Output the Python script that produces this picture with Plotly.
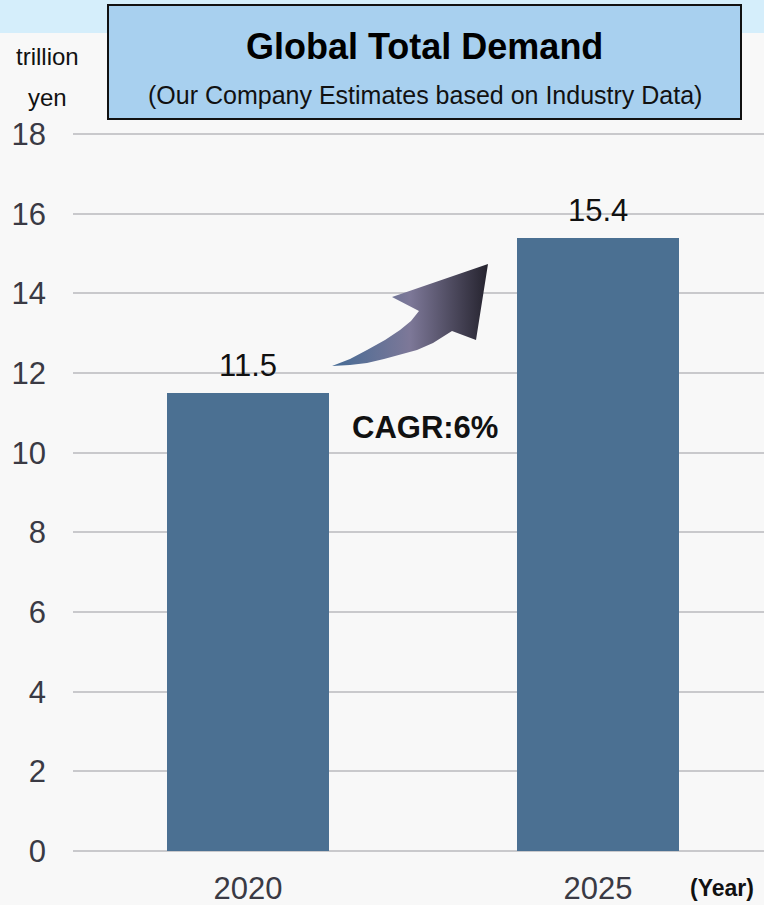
import plotly.graph_objects as go

# ---- data ----
years = ["2020", "2025"]
demand = [11.5, 15.4]
y_ticks = [0, 2, 4, 6, 8, 10, 12, 14, 16, 18]
cagr_label = "CAGR:6%"

W, H = 764, 905
L, R, T, B = 73, 0, 132, 52
plot_w = W - L - R
plot_h = H - T - B
slot_px = 350.0
y_lo, y_hi = -0.05, 18.05

def px2paper_x(px):
    return (px - L) / plot_w

def py2paper_y(py):
    return (H - B - py) / plot_h

def px2data_x(px):
    return (px - 248) / slot_px

def py2data_y(py):
    return y_lo + (H - B - py) / plot_h * (y_hi - y_lo)

xpos = list(range(len(years)))

fig = go.Figure()
fig.add_trace(go.Bar(
    x=xpos, y=demand, width=0.463,
    marker=dict(color="#4b7092", line=dict(width=0)),
    hoverinfo="skip", showlegend=False,
))

# decorative curved arrow (outline in pixel positions, converted to data units)
arrow_px = [(332, 366), (350, 359), (367, 350), (385, 340), (400, 330), (411, 321), (419, 311),
            (392, 297), (488, 264), (476, 340), (452, 331), (433, 343), (417, 350),
            (400, 355), (384, 359), (367, 363), (350, 365), (332, 366)]
fig.add_trace(go.Scatter(
    x=[px2data_x(p[0]) for p in arrow_px],
    y=[py2data_y(p[1]) for p in arrow_px],
    mode="lines", fill="toself", line=dict(width=0, color="rgba(0,0,0,0)"),
    fillgradient=dict(type="horizontal",
                      colorscale=[[0, "#456b95"], [0.5, "#7d7898"], [1, "#25232e"]]),
    hoverinfo="skip", showlegend=False,
))

font_family = "Liberation Sans, Arial, sans-serif"

def ann(**kw):
    base = dict(showarrow=False, xanchor="center", yanchor="middle")
    base.update(kw)
    return base

annotations = []
for xi, v in zip(xpos, demand):
    annotations.append(ann(x=xi, y=v, text=f"{v:.1f}", yanchor="bottom", yshift=8,
                           font=dict(size=31, color="#111111", family=font_family)))
annotations.append(ann(x=px2data_x(425), y=py2data_y(427), text=f"<b>{cagr_label}</b>",
                       font=dict(size=31, color="#111111", family=font_family)))
# title box texts
annotations.append(ann(xref="paper", yref="paper", x=px2paper_x(425), y=py2paper_y(46),
                       text="<b>Global Total Demand</b>",
                       font=dict(size=36, color="#000000", family=font_family)))
annotations.append(ann(xref="paper", yref="paper", x=px2paper_x(425), y=py2paper_y(95),
                       text="(Our Company Estimates based on Industry Data)",
                       font=dict(size=25, color="#111111", family=font_family)))
annotations.append(ann(xref="paper", yref="paper", x=px2paper_x(47), y=py2paper_y(56),
                       text="trillion",
                       font=dict(size=24, color="#111111", family=font_family)))
annotations.append(ann(xref="paper", yref="paper", x=px2paper_x(47), y=py2paper_y(97),
                       text="yen",
                       font=dict(size=24, color="#111111", family=font_family)))
annotations.append(ann(xref="paper", yref="paper", x=px2paper_x(722), y=py2paper_y(888),
                       text="<b>(Year)</b>",
                       font=dict(size=23, color="#111111", family=font_family)))

shapes = [
    dict(type="rect", xref="paper", yref="paper", layer="below",
         x0=px2paper_x(0), x1=px2paper_x(W), y0=py2paper_y(33), y1=py2paper_y(0),
         fillcolor="#d5eefb", line=dict(width=0)),
    dict(type="rect", xref="paper", yref="paper", layer="above",
         x0=px2paper_x(108), x1=px2paper_x(741), y0=py2paper_y(119), y1=py2paper_y(5),
         fillcolor="#a8d0ef", line=dict(color="#111111", width=2)),
]

fig.update_layout(
    width=W, height=H,
    margin=dict(l=L, r=R, t=T, b=B, pad=0),
    paper_bgcolor="#f8f8f8", plot_bgcolor="#f8f8f8",
    font=dict(family=font_family, color="#333333"),
    bargap=0,
    xaxis=dict(range=[-0.5, -0.5 + plot_w / slot_px], tickvals=xpos, ticktext=years,
               showgrid=False, zeroline=False, showline=False, ticks="",
               tickfont=dict(size=31, color="#3a3a44"), ticklabelstandoff=14, fixedrange=True),
    yaxis=dict(range=[y_lo, y_hi], tickvals=y_ticks, showgrid=True,
               gridcolor="#c9c9cc", gridwidth=2, zeroline=False, showline=False, ticks="",
               tickfont=dict(size=31, color="#3a3a44"), ticklabelstandoff=26, fixedrange=True),
    annotations=annotations,
    shapes=shapes,
)

fig.write_html("out.html", config={"displayModeBar": False},
               post_script="document.body.style.margin='0';document.body.style.background='#f8f8f8';")
